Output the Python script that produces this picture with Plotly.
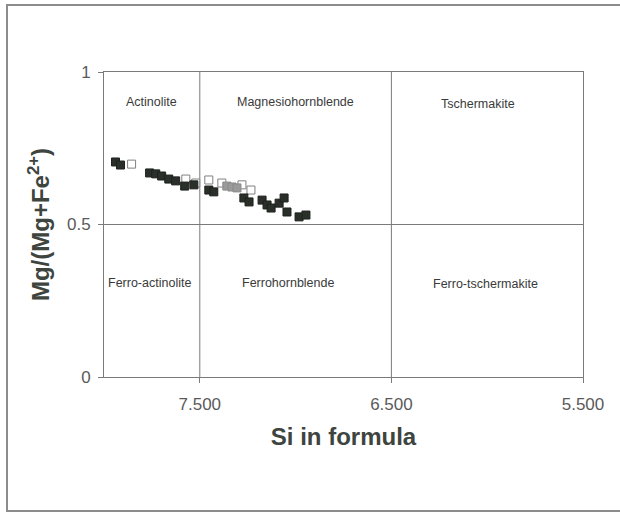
import plotly.graph_objects as go

# Amphibole classification: Si (apfu) vs Mg/(Mg+Fe2+)
si_dark = [7.940, 7.914, 7.762, 7.730, 7.699, 7.662, 7.626, 7.579, 7.531, 7.453, 7.427,
           7.270, 7.243, 7.175, 7.149, 7.128, 7.086, 7.060, 7.045, 6.982, 6.946]
mg_dark = [0.705, 0.695, 0.669, 0.666, 0.659, 0.649, 0.643, 0.626, 0.630, 0.613, 0.607,
           0.587, 0.574, 0.580, 0.564, 0.554, 0.570, 0.587, 0.541, 0.525, 0.531]

si_open = [7.856, 7.573, 7.521, 7.453, 7.385, 7.280, 7.233]
mg_open = [0.698, 0.649, 0.636, 0.646, 0.636, 0.630, 0.613]

si_grey = [7.359, 7.332, 7.306]
mg_grey = [0.626, 0.623, 0.620]

field_names = ["Actinolite", "Magnesiohornblende", "Tschermakite",
               "Ferro-actinolite", "Ferrohornblende", "Ferro-tschermakite"]
field_si = [7.751, 7.003, 6.050, 7.762, 7.039, 6.008]
field_mg = [0.902, 0.902, 0.895, 0.308, 0.308, 0.305]

si_bounds = [7.5, 6.5]
mg_bound = 0.5
x_range = [8.0, 5.5]
x_ticks = [7.5, 6.5, 5.5]
x_ticktext = ["7.500", "6.500", "5.500"]
y_ticks = [0, 0.5, 1]
y_ticktext = ["0", "0.5", "1"]

font_family = "Liberation Sans, Arial, sans-serif"
line_col = "#7a7a7a"

fig = go.Figure()

fig.add_trace(go.Scatter(
    x=si_open, y=mg_open, mode="markers",
    marker=dict(symbol="square", size=8, color="white",
                line=dict(color="#808080", width=1)),
    showlegend=False, hoverinfo="x+y"))
fig.add_trace(go.Scatter(
    x=si_grey, y=mg_grey, mode="markers",
    marker=dict(symbol="square", size=8, color="#9a9a9a",
                line=dict(color="#8a8a8a", width=1)),
    showlegend=False, hoverinfo="x+y"))
fig.add_trace(go.Scatter(
    x=si_dark, y=mg_dark, mode="markers",
    marker=dict(symbol="square", size=8, color="#2a2f2a",
                line=dict(color="#1e221e", width=1)),
    showlegend=False, hoverinfo="x+y"))

# field boundaries
for s in si_bounds:
    fig.add_shape(type="line", x0=s, x1=s, y0=0, y1=1, xref="x", yref="y",
                  line=dict(color=line_col, width=1), layer="below")
fig.add_shape(type="line", x0=x_range[0], x1=x_range[1], y0=mg_bound, y1=mg_bound,
              xref="x", yref="y", line=dict(color=line_col, width=1), layer="below")

# field names
for name, sx, my in zip(field_names, field_si, field_mg):
    fig.add_annotation(x=sx, y=my, text=name, showarrow=False,
                       font=dict(family=font_family, size=12.5, color="#3a3a3a"))

# outer chart frame
fig.add_shape(type="rect", xref="paper", yref="paper",
              x0=-0.2025, x1=1.09, y0=-0.439, y1=1.2197,
              line=dict(color="#8c8c8c", width=2), fillcolor="rgba(0,0,0,0)")

fig.update_xaxes(
    range=x_range, tickvals=x_ticks, ticktext=x_ticktext,
    showgrid=False, zeroline=False, showline=True, mirror=True,
    linecolor=line_col, linewidth=1, ticks="outside", ticklen=5,
    tickcolor=line_col, ticklabelstandoff=7,
    tickfont=dict(family=font_family, size=17, color="#5a5a5a"),
    title=dict(text="<b>Si in formula</b>", standoff=14,
               font=dict(family=font_family, size=24, color="#3e443e")))
fig.update_yaxes(
    range=[0, 1], tickvals=y_ticks, ticktext=y_ticktext,
    showgrid=False, zeroline=False, showline=True, mirror=True,
    linecolor=line_col, linewidth=1, ticks="outside", ticklen=5,
    tickcolor=line_col, ticklabelstandoff=4,
    tickfont=dict(family=font_family, size=17, color="#5a5a5a"),
    title=dict(text="<b>Mg/(Mg+Fe<sup>2+</sup>)</b>", standoff=10,
               font=dict(family=font_family, size=24, color="#3e443e")))

fig.update_layout(
    width=620, height=513,
    margin=dict(l=104, r=37, t=72, b=136),
    paper_bgcolor="white", plot_bgcolor="white",
    font=dict(family=font_family))

fig.write_html("out.html")
